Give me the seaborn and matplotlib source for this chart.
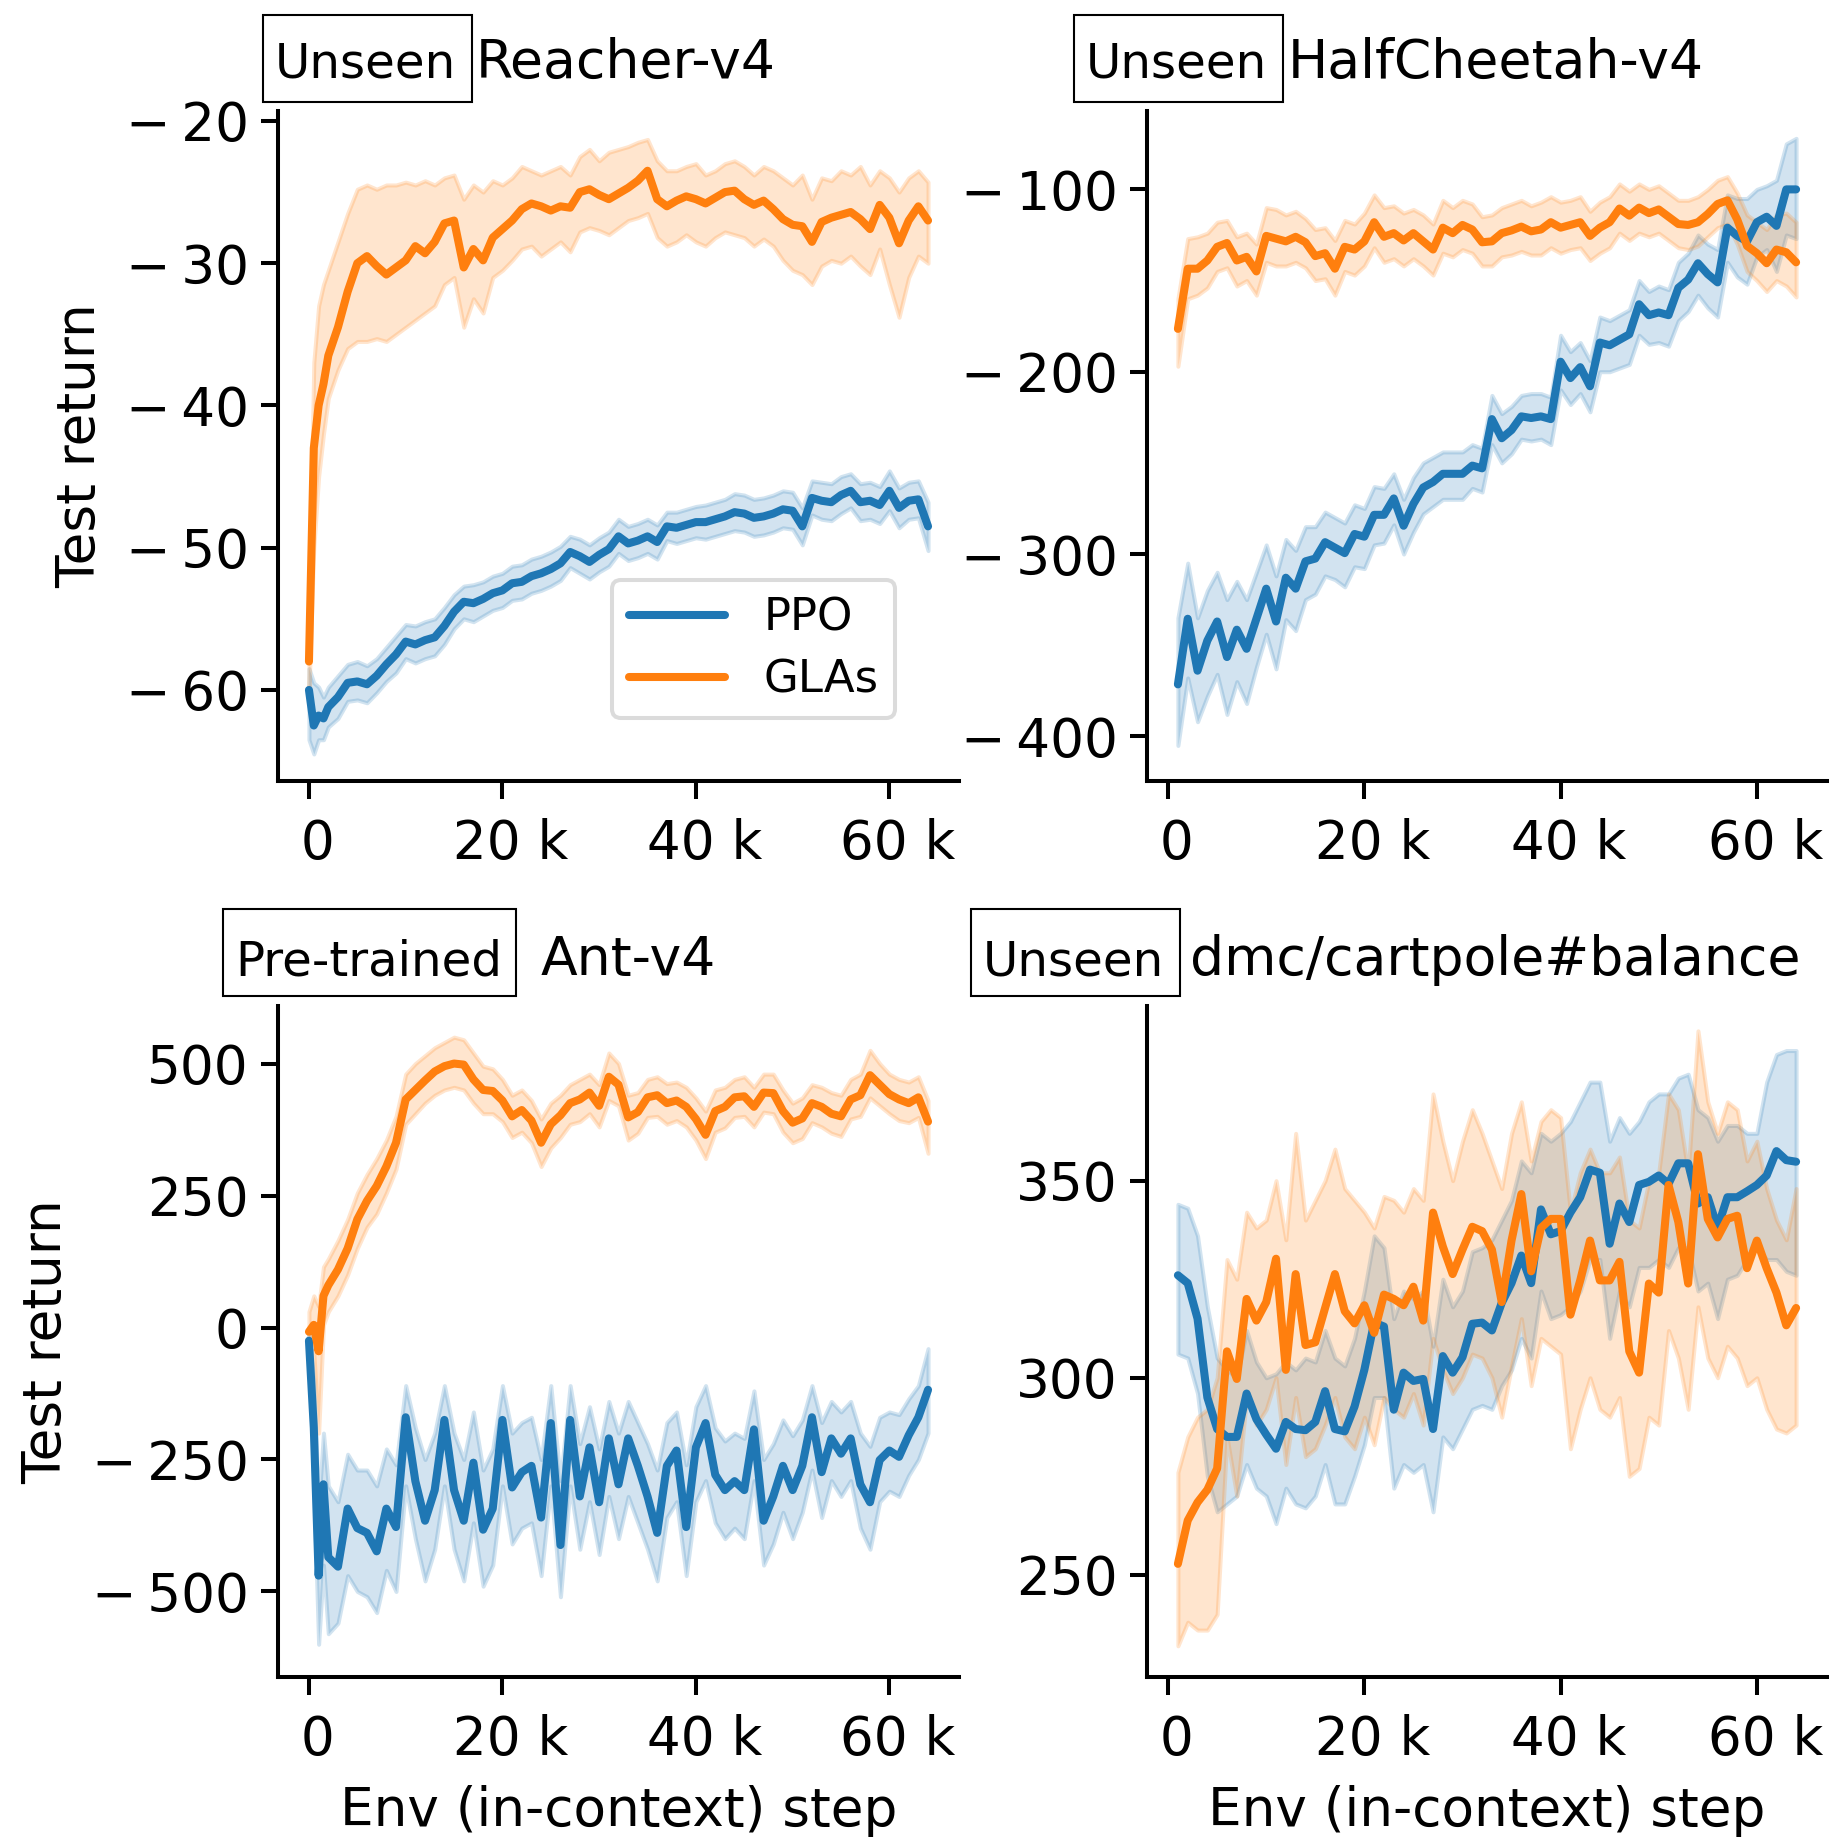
import numpy as np
import pandas as pd
import matplotlib
matplotlib.use("Agg")
import matplotlib.pyplot as plt
from matplotlib.ticker import MultipleLocator, FuncFormatter
from matplotlib.patches import Rectangle
import seaborn as sns

# ---------------- data ----------------
series_names = ["PPO", "GLAs"]
series_colors = ["#1f77b4", "#ff7f0e"]

# x grids (env steps)
steps_fine = [0, 500, 1000, 1500, 2000] + list(range(3000, 65000, 1000))
steps_coarse = list(range(1000, 65000, 1000))

# --- Reacher-v4 ---
reacher_ppo_mean = [-60.0, -62.5, -61.8, -62.0, -61.2,
    -60.5, -59.5, -59.4, -59.6, -59.0, -58.2, -57.5, -56.6, -56.8, -56.5,
    -56.3, -55.5, -54.5, -53.8, -53.9, -53.6, -53.2, -53.0, -52.5, -52.4,
    -52.0, -51.8, -51.5, -51.1, -50.3, -50.6, -51.0, -50.5, -50.1, -49.2,
    -49.7, -49.5, -49.2, -49.6, -48.5, -48.6, -48.4, -48.2, -48.2, -48.0,
    -47.8, -47.5, -47.6, -47.9, -47.8, -47.6, -47.3, -47.4, -48.5, -46.5,
    -46.7, -46.8, -46.3, -46.0, -46.8, -46.7, -47.0, -46.0, -47.2, -46.7,
    -46.6, -48.5]
reacher_ppo_hi = [-58.5, -59.5, -59.8, -60.5, -59.8,
    -59.0, -58.2, -58.0, -58.3, -57.8, -57.0, -56.2, -55.4, -55.5, -55.2,
    -55.0, -54.2, -53.3, -52.7, -52.6, -52.4, -52.0, -51.8, -51.3, -51.2,
    -50.8, -50.6, -50.3, -49.9, -49.2, -49.4, -49.8, -49.3, -48.9, -48.0,
    -48.5, -48.3, -48.0, -48.4, -47.5, -47.5, -47.3, -47.1, -47.0, -46.8,
    -46.6, -46.2, -46.3, -46.6, -46.5, -46.3, -46.0, -46.1, -47.2, -45.3,
    -45.4, -45.5, -45.0, -44.8, -45.5, -45.4, -45.7, -44.6, -45.8, -45.4,
    -45.3, -46.8]
reacher_ppo_lo = [-63.5, -64.5, -63.5, -63.5, -62.6,
    -62.0, -60.8, -60.7, -60.9, -60.2, -59.4, -58.8, -57.8, -58.1, -57.8,
    -57.6, -56.8, -55.7, -55.0, -55.2, -54.8, -54.4, -54.2, -53.7, -53.6,
    -53.2, -53.0, -52.7, -52.3, -51.4, -51.8, -52.2, -51.7, -51.3, -50.4,
    -50.9, -50.7, -50.4, -50.8, -49.5, -49.7, -49.5, -49.3, -49.4, -49.2,
    -49.0, -48.8, -48.9, -49.2, -49.1, -48.9, -48.6, -48.7, -49.8, -47.7,
    -48.0, -48.1, -47.6, -47.2, -48.1, -48.0, -48.3, -47.4, -48.6, -48.0,
    -47.9, -50.2]
reacher_glas_mean = [-58.0, -43.0, -40.0, -38.5, -36.5,
    -34.5, -32.0, -30.0, -29.5, -30.2, -30.8, -30.3, -29.8, -28.8, -29.3,
    -28.5, -27.2, -27.0, -30.3, -29.0, -29.8, -28.2, -27.6, -27.0, -26.2,
    -25.8, -26.0, -26.3, -26.0, -26.1, -25.0, -24.8, -25.2, -25.5, -25.1,
    -24.7, -24.2, -23.5, -25.5, -26.0, -25.6, -25.3, -25.5, -25.8, -25.4,
    -25.0, -24.9, -25.5, -25.9, -25.6, -26.2, -26.9, -27.3, -27.4, -28.5,
    -27.1, -26.8, -26.6, -26.4, -26.9, -27.6, -25.9, -26.8, -28.6, -27.0,
    -26.0, -27.0]
reacher_glas_hi = [-55.5, -37.0, -33.0, -31.5, -30.5,
    -28.5, -26.5, -24.8, -24.5, -24.8, -24.5, -24.5, -24.3, -24.5, -24.2,
    -24.5, -24.0, -23.8, -25.5, -24.5, -25.0, -24.2, -24.5, -24.0, -23.2,
    -23.5, -23.8, -23.5, -23.2, -23.8, -22.5, -22.0, -22.8, -22.2, -22.0,
    -21.8, -21.5, -21.3, -22.8, -23.5, -23.5, -23.2, -23.0, -23.8, -23.5,
    -23.0, -22.8, -23.2, -23.8, -23.2, -23.5, -24.0, -24.5, -23.8, -25.5,
    -24.0, -24.2, -23.5, -23.8, -23.2, -24.5, -23.5, -24.0, -25.0, -24.0,
    -23.5, -24.3]
reacher_glas_lo = [-60.0, -50.0, -45.0, -42.0, -39.5,
    -37.5, -36.0, -35.5, -35.5, -35.3, -35.5, -35.0, -34.5, -34.0, -33.5,
    -33.0, -31.5, -31.0, -34.5, -32.5, -33.5, -31.0, -30.5, -29.8, -29.0,
    -28.8, -29.5, -29.0, -28.5, -29.2, -27.8, -27.5, -27.7, -28.0, -27.5,
    -27.0, -26.8, -26.5, -28.2, -28.8, -28.5, -28.0, -28.5, -28.8, -28.2,
    -27.8, -28.0, -28.2, -28.8, -28.3, -28.8, -29.8, -30.5, -30.8, -31.5,
    -30.2, -29.8, -30.0, -29.5, -30.2, -30.8, -29.0, -31.5, -33.8, -31.0,
    -29.5, -30.0]

# --- HalfCheetah-v4 ---
hc_ppo_mean = [
    -371.5, -335.5, -364, -347.5, -337, -356.5, -341.5, -352, -335.5, -319,
    -337, -313, -319, -304, -302.5, -293.5, -296.5, -299.5, -289, -290.5,
    -278.5, -278.5, -269.5, -284.5, -272.5, -263.5, -260.5, -256, -256, -256,
    -251.5, -253, -226, -236.5, -232, -224.5, -225.4, -224.5, -226, -194.5,
    -203.5, -197.5, -208, -184, -185.5, -182.5, -179.5, -163, -169, -167.5,
    -169, -154, -149.5, -140.5, -146.5, -151, -121, -125.5, -128.5, -118,
    -115, -120, -100, -100]
hc_ppo_hi = [
    -335, -305, -335, -320, -310, -325, -315, -325, -310, -295,
    -312, -292, -298, -285, -285, -277, -280, -283, -273, -275,
    -263, -264, -256, -270, -258, -250, -247, -244, -244, -244,
    -240, -242, -213, -223, -219, -213, -212, -212, -214, -180,
    -189, -184, -194, -170, -172, -169, -166, -150, -156, -153,
    -155, -140, -135, -125, -130, -133, -103, -105, -105, -100,
    -98, -95, -75, -72]
hc_ppo_lo = [
    -405, -368, -392, -378, -366, -388, -370, -382, -362, -344,
    -363, -336, -342, -325, -322, -312, -314, -318, -307, -308,
    -295, -294, -284, -300, -288, -278, -274, -270, -270, -270,
    -264, -266, -240, -250, -245, -237, -238, -237, -240, -210,
    -218, -212, -222, -200, -200, -198, -196, -180, -185, -184,
    -186, -172, -167, -158, -165, -170, -140, -148, -152, -137,
    -133, -145, -125, -127]
hc_glas_mean = [
    -176.5, -143.5, -143.5, -139, -131.5, -129.4, -139, -137, -145, -125.5,
    -127, -128.5, -126, -129, -136.6, -135, -143.5, -131.5, -133, -128.5,
    -118, -126, -124, -128, -124, -128.5, -133, -121, -124, -119.5,
    -122, -129, -128.5, -124, -122.5, -120.4, -123, -122, -118, -121,
    -119.5, -118, -125.5, -121, -118, -110.5, -114.4, -110, -113, -111,
    -115, -119, -119.5, -118, -113.5, -108, -106, -116.5, -131, -135,
    -140.5, -133, -134.5, -140]
hc_glas_hi = [
    -160, -127, -126, -124, -118, -117, -126, -124, -130, -110,
    -111, -114, -112, -116, -122, -121, -128, -117, -119, -113,
    -103, -110, -109, -113, -111, -114, -119, -106, -110, -106,
    -108, -115, -114, -110, -108, -106, -109, -107, -104, -107,
    -106, -104, -112, -107, -104, -97, -101, -97, -100, -98,
    -102, -106, -106, -104, -100, -95, -93, -102, -114, -118,
    -122, -114, -113, -118]
hc_glas_lo = [
    -197, -160, -158, -154, -145, -143, -153, -150, -158, -140,
    -142, -142, -140, -143, -150, -149, -158, -145, -147, -142,
    -132, -140, -138, -142, -138, -142, -147, -135, -137, -133,
    -135, -142, -142, -137, -136, -134, -136, -136, -132, -135,
    -133, -132, -139, -135, -132, -124, -128, -124, -126, -124,
    -128, -132, -133, -131, -126, -121, -119, -130, -145, -150,
    -156, -150, -153, -159]

# --- Ant-v4 ---
ant_ppo_mean = [-25, -190, -470, -297, -435,
    -453, -343, -380, -389, -424, -343, -378, -170, -291, -366,
    -308, -175, -308, -366, -256, -383, -343, -175, -303, -274,
    -262, -360, -181, -412, -175, -320, -227, -331, -210, -297,
    -210, -262, -320, -389, -262, -233, -378, -227, -181, -279,
    -308, -291, -308, -193, -366, -320, -262, -308, -262, -170,
    -274, -210, -239, -210, -297, -331, -251, -233, -245, -204,
    -170, -118]
ant_ppo_hi = [-10, -100, -340, -200, -300,
    -330, -240, -270, -270, -300, -230, -260, -110, -190, -250,
    -200, -110, -200, -250, -160, -270, -230, -110, -200, -180,
    -170, -250, -110, -290, -110, -220, -150, -230, -140, -200,
    -140, -180, -220, -270, -180, -160, -260, -150, -110, -190,
    -215, -200, -210, -120, -250, -220, -175, -205, -175, -110,
    -180, -140, -160, -140, -200, -225, -170, -160, -165, -135,
    -110, -40]
ant_ppo_lo = [-40, -300, -600, -450, -580,
    -560, -470, -500, -510, -540, -460, -500, -300, -400, -480,
    -420, -300, -420, -480, -370, -490, -450, -300, -410, -380,
    -370, -470, -300, -510, -300, -420, -330, -430, -320, -400,
    -320, -370, -420, -480, -360, -330, -470, -330, -290, -370,
    -400, -380, -400, -290, -450, -410, -350, -400, -350, -270,
    -360, -290, -320, -290, -380, -420, -330, -310, -320, -280,
    -250, -200]
ant_glas_mean = [-8, 5, -45, 60, 80,
    110, 150, 205, 240, 268, 305, 350, 432, 450, 468,
    485, 495, 500, 498, 470, 450, 448, 430, 400, 412,
    392, 350, 385, 402, 425, 432, 445, 420, 475, 460,
    398, 408, 436, 440, 425, 430, 418, 395, 365, 410,
    418, 436, 438, 418, 445, 444, 410, 388, 396, 425,
    418, 405, 400, 432, 440, 478, 460, 442, 432, 425,
    436, 390]
ant_glas_hi = [30, 60, 40, 115, 130,
    165, 205, 255, 290, 320, 355, 400, 480, 500, 515,
    530, 540, 550, 545, 520, 495, 490, 470, 440, 450,
    430, 395, 425, 440, 460, 470, 480, 460, 520, 500,
    440, 445, 470, 475, 462, 465, 455, 435, 410, 450,
    455, 470, 475, 455, 480, 480, 450, 425, 435, 460,
    455, 445, 440, 470, 480, 525, 500, 480, 470, 465,
    475, 430]
ant_glas_lo = [-40, -45, -200, 5, 30,
    60, 100, 150, 190, 215, 255, 300, 385, 405, 425,
    440, 450, 455, 450, 425, 405, 405, 390, 360, 370,
    350, 305, 340, 360, 385, 390, 405, 380, 430, 420,
    355, 368, 398, 400, 385, 392, 380, 355, 320, 370,
    378, 398, 400, 380, 408, 405, 370, 350, 358, 388,
    380, 368, 362, 395, 400, 435, 420, 405, 392, 388,
    398, 330]

# --- dmc/cartpole#balance ---
cp_ppo_mean = [
    326, 324, 315, 295, 287, 285, 285, 296, 289.5, 285.6,
    282, 288.8, 287, 286.7, 288.8, 296.6, 287, 286.4, 292.7, 302,
    314, 313, 291.9, 301.3, 299.2, 299.7, 287, 305.5, 301.3, 305.2,
    313.7, 314, 312, 319, 324, 331, 324, 342.7, 336.4, 337.2,
    341.9, 345.8, 352.8, 352, 334, 344.2, 339.5, 348.9, 349.7, 351.3,
    349.2, 354.4, 354.4, 344.2, 345.8, 338, 345.8, 345.8, 347.3, 348.9,
    351.3, 357.5, 355.2, 354.8]
cp_ppo_hi = [
    344, 343, 336, 318, 305, 302, 300, 312, 304, 300,
    301, 304, 302, 305, 304, 312, 305, 303, 310, 322,
    336, 333, 315, 322, 320, 322, 308, 325, 318, 322,
    332, 333, 335, 340, 345, 355, 352, 362, 360, 362,
    365, 370, 375, 375, 360, 366, 362, 365, 370, 372,
    372, 376, 377, 368, 366, 360, 364, 364, 362, 362,
    375, 382, 383, 383]
cp_ppo_lo = [
    306, 305, 296, 275, 266, 268, 270, 278, 272, 270,
    263, 272, 268, 267, 270, 278, 268, 268, 275, 283,
    295, 295, 272, 278, 276, 278, 266, 285, 282, 287,
    292, 293, 292, 298, 302, 310, 305, 322, 315, 316,
    318, 322, 330, 330, 310, 322, 318, 328, 328, 330,
    328, 333, 333, 322, 324, 315, 325, 326, 330, 333,
    330, 330, 327, 326]
cp_glas_mean = [
    252.8, 263.8, 268.4, 271.6, 277, 306.7, 299.7, 320, 314.5, 319.2,
    330.2, 302, 326.3, 308.3, 309, 317.7, 326.3, 316.9, 313.8, 318.4,
    311.4, 321.1, 320, 318.4, 323.1, 314.5, 341.9, 333.3, 326.3, 332.5,
    338.3, 337.2, 332.5, 319.2, 334.8, 346.6, 327, 338, 340.3, 340.3,
    316, 324.7, 334.8, 324.7, 324.7, 329.4, 306.7, 301.3, 323.9, 321.6,
    348.9, 339.5, 323.9, 356.7, 340.3, 335.6, 340.3, 341.1, 327.8, 334.8,
    327.8, 321.6, 313.3, 317.7]
cp_glas_hi = [
    276, 285, 290, 292, 300, 330, 325, 342, 338, 340,
    350, 335, 362, 340, 345, 350, 358, 348, 345, 342,
    338, 346, 345, 342, 348, 345, 372, 360, 350, 360,
    368, 362, 355, 348, 362, 370, 355, 365, 368, 366,
    342, 352, 358, 352, 352, 356, 340, 338, 350, 352,
    372, 368, 352, 388, 370, 362, 370, 368, 355, 360,
    348, 340, 335, 348]
cp_glas_lo = [
    232, 238, 236, 236, 240, 285, 270, 295, 288, 292,
    300, 278, 295, 280, 282, 288, 295, 285, 282, 290,
    283, 295, 292, 290, 296, 288, 310, 302, 296, 300,
    306, 305, 300, 290, 303, 315, 298, 310, 308, 306,
    282, 292, 300, 292, 290, 295, 275, 277, 290, 288,
    312, 305, 292, 318, 305, 300, 308, 305, 298, 300,
    292, 287, 286, 288]

panel_tags = ["Unseen", "Unseen", "Pre-trained", "Unseen"]
panel_titles = ["Reacher-v4", "HalfCheetah-v4", "Ant-v4", "dmc/cartpole#balance"]
y_label = "Test return"
x_label = "Env (in-context) step"

# ---------------- style ----------------
sns.set_theme(style="ticks")
DPI = 200
TICK_FS = 19.2
plt.rcParams.update({
    "font.family": ["DejaVu Sans"],
    "axes.linewidth": 1.45,
    "xtick.major.size": 6.3, "ytick.major.size": 6.3,
    "xtick.major.width": 1.45, "ytick.major.width": 1.45,
    "xtick.major.pad": 7.0, "ytick.major.pad": 4.2,
    "xtick.labelsize": TICK_FS, "ytick.labelsize": TICK_FS,
    "axes.labelsize": 19.2,
    "axes.labelpad": 7.0,
    "xtick.color": "black", "ytick.color": "black",
    "axes.edgecolor": "black", "axes.labelcolor": "black",
    "text.color": "black",
    "patch.linewidth": 1.45,
})

fig = plt.figure(figsize=(1834 / DPI, 1839 / DPI), dpi=DPI)
W, H = 1834.0, 1839.0

def px_axes(left, top, right, bottom):
    return fig.add_axes([left / W, (H - bottom) / H, (right - left) / W, (bottom - top) / H])

axes = [
    px_axes(278, 111, 959, 781),
    px_axes(1147, 111, 1827, 781),
    px_axes(278, 1006, 959, 1677),
    px_axes(1147, 1006, 1827, 1677),
]

panels = [
    (steps_fine, [(reacher_ppo_mean, reacher_ppo_lo, reacher_ppo_hi),
                  (reacher_glas_mean, reacher_glas_lo, reacher_glas_hi)]),
    (steps_coarse, [(hc_ppo_mean, hc_ppo_lo, hc_ppo_hi),
                    (hc_glas_mean, hc_glas_lo, hc_glas_hi)]),
    (steps_fine, [(ant_ppo_mean, ant_ppo_lo, ant_ppo_hi),
                  (ant_glas_mean, ant_glas_lo, ant_glas_hi)]),
    (steps_coarse, [(cp_ppo_mean, cp_ppo_lo, cp_ppo_hi),
                    (cp_glas_mean, cp_glas_lo, cp_glas_hi)]),
]
ylims = [(-66.4, -19.3), (-424.5, -57.0), (-662, 609), (224.1, 394.3)]
ysteps = [10, 100, 250, 50]

def yfmt(v, pos):
    if abs(v) < 1e-9:
        return "0"
    if v < 0:
        return "\u2212\u2009" + f"{abs(v):g}"
    return f"{v:g}"

def xfmt(v, pos):
    if abs(v) < 1e-9:
        return " 0"
    return f" {v / 1000:g} k"

for i, (ax, (xs, ser)) in enumerate(zip(axes, panels)):
    handles = []
    for name, color, (m, lo, hi) in zip(series_names, series_colors, ser):
        assert len(m) == len(lo) == len(hi) == len(xs)
        df = pd.DataFrame({"step": xs, "ret": m})
        ax.fill_between(xs, lo, hi, color=color, alpha=0.2, linewidth=1.45)
        sns.lineplot(data=df, x="step", y="ret", ax=ax, color=color,
                     linewidth=2.9, label=name, legend=False)
        handles.append(ax.lines[-1])
    ax.set_ylim(*ylims[i])
    ax.yaxis.set_major_locator(MultipleLocator(ysteps[i]))
    ax.yaxis.set_major_formatter(FuncFormatter(yfmt))
    ax.xaxis.set_major_locator(MultipleLocator(20000))
    ax.xaxis.set_major_formatter(FuncFormatter(xfmt))
    ax.set_xlabel(x_label if i >= 2 else "", labelpad=7.0)
    ax.set_ylabel(y_label if i % 2 == 0 else "", labelpad=7.0)
    sns.despine(ax=ax)
    if i == 0:
        leg = ax.legend(handles, series_names, loc="lower right",
                        bbox_to_anchor=(0.906, 0.094), borderaxespad=0,
                        fontsize=16.2, handlelength=2.15, handletextpad=0.84,
                        frameon=True, fancybox=True, framealpha=1.0,
                        edgecolor="0.86", borderpad=0.37, labelspacing=0.41)
        leg.get_frame().set_linewidth(1.45)

# Titles with boxed tags (pixel geometry of the reference)
# (box_left, box_top, box_right, box_bottom, tag_x, title_x, baseline)
title_specs = [
    (263, 15, 472, 102, 275, 476, 78),
    (1074, 15, 1283, 102, 1086, 1288, 78),
    (223, 909, 516, 996, 235, 541, 975),
    (971, 909, 1180, 996, 983, 1190, 975),
]
for (bl, bt, br, bb, tx, ttx, base), tag, title in zip(title_specs, panel_tags, panel_titles):
    fig.add_artist(Rectangle((bl / W, 1 - bb / H), (br - bl) / W, (bb - bt) / H,
                             transform=fig.transFigure, facecolor="white",
                             edgecolor="black", linewidth=0.75))
    fig.text(tx / W, 1 - base / H, tag, ha="left", va="baseline", fontsize=17.4)
    fig.text(ttx / W, 1 - base / H, title, ha="left", va="baseline", fontsize=19.3)

fig.savefig("out.png", dpi=DPI)
